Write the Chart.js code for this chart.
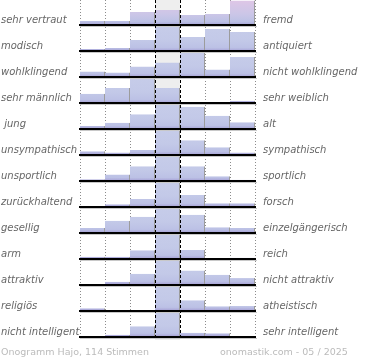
<!DOCTYPE html>
<html>
<head>
<meta charset="utf-8">
<script src="https://cdn.jsdelivr.net/npm/chart.js@4.4.1/dist/chart.umd.min.js"></script>
<style>
  body { margin: 0; background: #fff; }
  #wrap { position: relative; width: 370px; height: 360px; }
  .foot { position: absolute; top: 346px; font: 9.5px "DejaVu Sans", sans-serif; color: #bbb; white-space: nowrap; }
</style>
</head>
<body>
<div id="wrap">
  <canvas id="chart-onogramm"></canvas>
  <div class="foot" style="left:1px">Onogramm Hajo, 114 Stimmen</div>
  <div class="foot" style="left:220px">onomastik.com - 05 / 2025</div>
</div>
<script>
// Polaritätsprofil: linke / rechte Eigenschaft pro Zeile
const LEFT_LABELS = ['sehr vertraut', 'modisch', 'wohlklingend', 'sehr männlich', ' jung', 'unsympathisch',
  'unsportlich', 'zurückhaltend', 'gesellig', 'arm', 'attraktiv', 'religiös', 'nicht intelligent'];
const RIGHT_LABELS = ['fremd', 'antiquiert', 'nicht wohlklingend', 'sehr weiblich', 'alt', 'sympathisch',
  'sportlich', 'forsch', 'einzelgängerisch', 'reich', 'nicht attraktiv', 'atheistisch', 'sehr intelligent'];
const STEPS = ['1', '2', '3', '4', '5', '6', '7'];

// Stimmen je Stufe, relativ zur stärksten Stufe der Zeile (= 100)
const VALUES = [
  [18, 18, 54, 62, 42, 46, 100],
  [10, 14, 46, 100, 58, 90, 78],
  [24, 20, 44, 60, 100, 32, 82],
  [38, 62, 100, 62, 0, 0, 10],
  [13, 26, 60, 100, 90, 54, 28],
  [16, 11, 21, 100, 60, 32, 11],
  [8, 27, 60, 100, 60, 20, 6],
  [0, 12, 33, 100, 49, 16, 16],
  [21, 50, 66, 100, 74, 24, 21],
  [9, 9, 36, 100, 37, 0, 5],
  [2, 13, 45, 100, 58, 41, 28],
  [11, 4, 4, 100, 43, 19, 20],
  [2, 9, 43, 100, 17, 15, 0],
];

const ROW_H = 0.96;      // max. Balkenhöhe in Zeilen-Einheiten
const LABEL_OFF = 0.18;  // Beschriftung knapp über der Grundlinie

// Verlauf je Zeile: oben hell, unten lila Kante
function barFill(c, r) {
  const chart = c.chart;
  if (!chart.chartArea) return '#c3c9e8';
  const y = chart.scales.y;
  const base = y.getPixelForValue(r + 1);
  const top = y.getPixelForValue(r + 1 - ROW_H);
  const g = chart.ctx.createLinearGradient(0, top, 0, base);
  g.addColorStop(0, r === 0 ? '#dec6e6' : '#c6cce9');
  g.addColorStop(0.55, r === 0 ? '#cbc6e7' : '#c3c9e8');
  g.addColorStop(0.85, '#bcc1e5');
  g.addColorStop(0.93, '#afaedc');
  g.addColorStop(1, '#a295cd');
  return g;
}

const rowLines = {
  id: 'rowLines',
  beforeDraw(chart) {
    const { ctx, chartArea: a, scales: { x } } = chart;
    const w = x.width / STEPS.length;
    ctx.save();
    ctx.fillStyle = '#eeeeee';
    ctx.fillRect(a.left + 3 * w, a.top, w, a.bottom - a.top + 3);
    ctx.restore();
  },
  afterDatasetsDraw(chart) {
    const { ctx, chartArea: a, scales: { x, y } } = chart;
    const w = x.width / STEPS.length;
    ctx.save();
    // Grundlinien mit Schatten
    VALUES.forEach((_, r) => {
      const yb = Math.round(y.getPixelForValue(r + 1));
      ctx.fillStyle = '#c8c8c8';
      ctx.fillRect(a.left, yb + 1, a.right - a.left + 2, 1);
      ctx.fillStyle = '#000';
      ctx.fillRect(a.left - 1, yb - 1, a.right - a.left + 2, 2);
    });
    // gestrichelte Mittelspalte
    ctx.strokeStyle = '#000';
    ctx.lineWidth = 1;
    ctx.setLineDash([3, 2]);
    [3, 4].forEach(i => {
      const px = Math.round(a.left + i * w) + 0.5;
      ctx.beginPath();
      ctx.moveTo(px, a.top);
      ctx.lineTo(px, a.bottom + 3);
      ctx.stroke();
    });
    ctx.restore();
  }
};

const labelFont = { family: 'DejaVu Sans', size: 10, style: 'italic' };

// Achsenbreite fest, kein Zusatzrand oben/unten für die Beschriftung
function fixAxis(width) {
  return axis => {
    axis.width = width;
    axis.paddingTop = 0;
    axis.paddingBottom = 0;
  };
}

new Chart(document.getElementById('chart-onogramm'), {
  type: 'bar',
  data: {
    labels: STEPS,
    datasets: VALUES.map((vals, r) => ({
      data: vals.map(v => [r + 1, r + 1 - v / 100 * ROW_H]),
      grouped: false,
      barPercentage: 1,
      categoryPercentage: 1,
      backgroundColor: c => barFill(c, r),
      borderColor: '#9c9c9c',
      borderWidth: { top: 0, right: 1, bottom: 0, left: 0 },
      borderSkipped: false,
      inflateAmount: 0,
    }))
  },
  options: {
    responsive: true,
    maintainAspectRatio: false,
    animation: false,
    devicePixelRatio: 1,
    layout: { padding: { left: 1, top: 0, right: 0, bottom: 23 } },
    scales: {
      x: {
        offset: true,
        grid: {
          offset: true,
          drawTicks: false,
          color: c => (c.index === 3 || c.index === 4) ? 'rgba(0,0,0,0)' : '#8c8c8c',
        },
        border: { display: false, dash: [1, 2] },
        ticks: { display: false },
        afterFit(axis) { axis.height = 0; axis.paddingLeft = 0; axis.paddingRight = 0; }
      },
      y: {
        position: 'left',
        reverse: true,
        min: 0.02,
        max: VALUES.length,
        grid: { display: false, drawTicks: false },
        border: { display: false },
        afterBuildTicks(axis) { axis.ticks = LEFT_LABELS.map((_, i) => ({ value: i + 1 - LABEL_OFF })); },
        ticks: {
          autoSkip: false,
          crossAlign: 'far',
          padding: 0,
          color: '#666',
          font: labelFont,
          callback: (v, i) => LEFT_LABELS[i]
        },
        afterFit: fixAxis(79)
      },
      yRight: {
        position: 'right',
        reverse: true,
        min: 0.02,
        max: VALUES.length,
        grid: { display: false, drawTicks: false },
        border: { display: false },
        afterBuildTicks(axis) { axis.ticks = RIGHT_LABELS.map((_, i) => ({ value: i + 1 - LABEL_OFF })); },
        ticks: {
          autoSkip: false,
          padding: 8,
          color: '#666',
          font: labelFont,
          callback: (v, i) => RIGHT_LABELS[i]
        },
        afterFit: fixAxis(115)
      }
    },
    plugins: { legend: { display: false }, tooltip: { enabled: false } }
  },
  plugins: [rowLines]
});
</script>
</body>
</html>
